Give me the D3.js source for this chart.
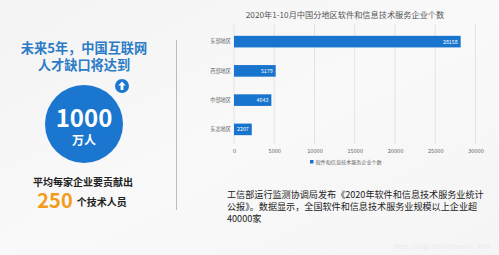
<!DOCTYPE html>
<html><head><meta charset="utf-8">
<script src="https://cdn.jsdelivr.net/npm/d3@7"></script>
<style>
html,body{margin:0;padding:0;background:#f7f7f7;}
svg{display:block;font-family:"Noto Sans CJK SC","Noto Sans",sans-serif;}
</style></head>
<body>
<script>
const categories = ["东部地区","西部地区","中部地区","东北地区"];
const values = [28158, 5179, 4643, 2207];
const xTicks = [0,5000,10000,15000,20000,25000,30000];
const chartTitle = "2020年1-10月中国分地区软件和信息技术服务企业个数";
const legendLabel = "软件和信息技术服务企业个数";
const headline = ["未来5年，中国互联网","人才缺口将达到"];
const bigNumber = "1000";
const bigUnit = "万人";
const subLine = "平均每家企业要贡献出";
const perCompany = "250";
const perUnit = "个技术人员";
const noteLines = ["工信部运行监测协调局发布《2020年软件和信息技术服务业统计","公报》。数据显示，全国软件和信息技术服务业规模以上企业超","40000家"];

const W=499,H=255;
const svg=d3.select("body").append("svg").attr("width",W).attr("height",H);
const defs=svg.append("defs");
const bg=defs.append("linearGradient").attr("id","bg").attr("x1",0).attr("y1",0).attr("x2",1).attr("y2",1);
bg.append("stop").attr("offset","0%").attr("stop-color","#f3f3f3");
bg.append("stop").attr("offset","50%").attr("stop-color","#f9f9f9");
bg.append("stop").attr("offset","100%").attr("stop-color","#f5f5f5");
svg.append("rect").attr("width",W).attr("height",H).attr("fill","url(#bg)");

// left panel
const blue="#1b76cf";
svg.selectAll("text.head").data(headline).join("text").attr("class","head")
  .attr("x",84).attr("y",(d,i)=>53+i*16.5).attr("text-anchor","middle")
  .attr("font-size",13.2).attr("font-weight",700).attr("fill","#2b7bc6").text(d=>d);
svg.append("circle").attr("cx",84).attr("cy",124).attr("r",39).attr("fill",blue);
svg.append("text").attr("x",84).attr("y",127).attr("text-anchor","middle")
  .attr("font-size",24).attr("font-weight",700).attr("fill","#fff").text(bigNumber);
svg.append("text").attr("x",84).attr("y",144.5).attr("text-anchor","middle")
  .attr("font-size",12).attr("font-weight",700).attr("fill","#fff").text(bigUnit);
// arrow icon
const ic=svg.append("g").attr("transform","translate(122,86)");
ic.append("circle").attr("r",7).attr("fill",blue);
ic.append("path").attr("d","M0,-4.6 L3.6,-0.6 L1.4,-0.6 L1.4,4 L-1.4,4 L-1.4,-0.6 L-3.6,-0.6 Z").attr("fill","#fff");

svg.append("text").attr("x",83).attr("y",185.5).attr("text-anchor","middle")
  .attr("font-size",10).attr("font-weight",700).attr("fill","#222").text(subLine);
const l2=svg.append("text").attr("x",82).attr("y",208).attr("text-anchor","middle");
l2.append("tspan").attr("font-size",20).attr("font-weight",700).attr("fill","#f39c1a").text(perCompany);
l2.append("tspan").attr("dx",4).attr("dy",-2).attr("font-size",10).attr("font-weight",700).attr("fill","#222").text(perUnit);

// divider
svg.append("line").attr("x1",176.5).attr("x2",176.5).attr("y1",40).attr("y2",210)
  .attr("stroke","#bdbdbd").attr("stroke-width",1);

// chart
const x=d3.scaleLinear().domain([0,30000]).range([234,475.5]);
const y=d3.scaleBand().domain(categories).range([27,144]).paddingInner(0.6).paddingOuter(0.3);
svg.append("text").attr("x",345).attr("y",17.5).attr("text-anchor","middle")
  .attr("font-size",8.2).attr("fill","#555").text(chartTitle);
svg.selectAll("line.grid").data(xTicks).join("line").attr("class","grid")
  .attr("x1",d=>x(d)).attr("x2",d=>x(d)).attr("y1",24).attr("y2",144)
  .attr("stroke","#e3e3e3").attr("stroke-width",1);
const xAxis=svg.append("g").attr("transform","translate(0,146)")
  .call(d3.axisBottom(x).tickValues(xTicks).tickSize(0).tickFormat(d3.format("d")));
xAxis.select(".domain").remove();
xAxis.selectAll("text").attr("font-size",5.6).attr("fill","#666").attr("font-family","'Noto Sans CJK SC',sans-serif").attr("dy","0.71em");
const yAxis=svg.append("g").attr("transform","translate(231,0)")
  .call(d3.axisLeft(y).tickSize(0).tickPadding(0));
yAxis.select(".domain").remove();
yAxis.selectAll("text").attr("font-size",5.2).attr("fill","#666").attr("font-family","'Noto Sans CJK SC',sans-serif");

const bh=11.6;
svg.selectAll("rect.bar").data(values).join("rect").attr("class","bar")
  .attr("x",x(0)).attr("y",(d,i)=>y(categories[i])+y.bandwidth()/2-bh/2)
  .attr("width",d=>x(d)-x(0)).attr("height",bh).attr("fill","#1874cd");
svg.selectAll("text.val").data(values).join("text").attr("class","val")
  .attr("x",d=>x(d)-3).attr("y",(d,i)=>y(categories[i])+y.bandwidth()/2+1.9)
  .attr("text-anchor","end").attr("font-size",5.3).attr("fill","#fff").text(d=>d);

// legend
svg.append("rect").attr("x",310).attr("y",160).attr("width",3.5).attr("height",3.5).attr("fill","#1874cd");
svg.append("text").attr("x",315.5).attr("y",163.8).attr("font-size",5.1).attr("fill","#666").text(legendLabel);

// note
svg.selectAll("text.note").data(noteLines).join("text").attr("class","note")
  .attr("x",227).attr("y",(d,i)=>197.5+i*12.2).attr("font-size",9.1).attr("fill","#222").text(d=>d);

// watermark
svg.append("text").attr("x",490).attr("y",249).attr("text-anchor","end")
  .attr("font-size",6).attr("fill","#ebebeb").text("https://blog.csdn.net/weixin_4399");
</script>
</body></html>
